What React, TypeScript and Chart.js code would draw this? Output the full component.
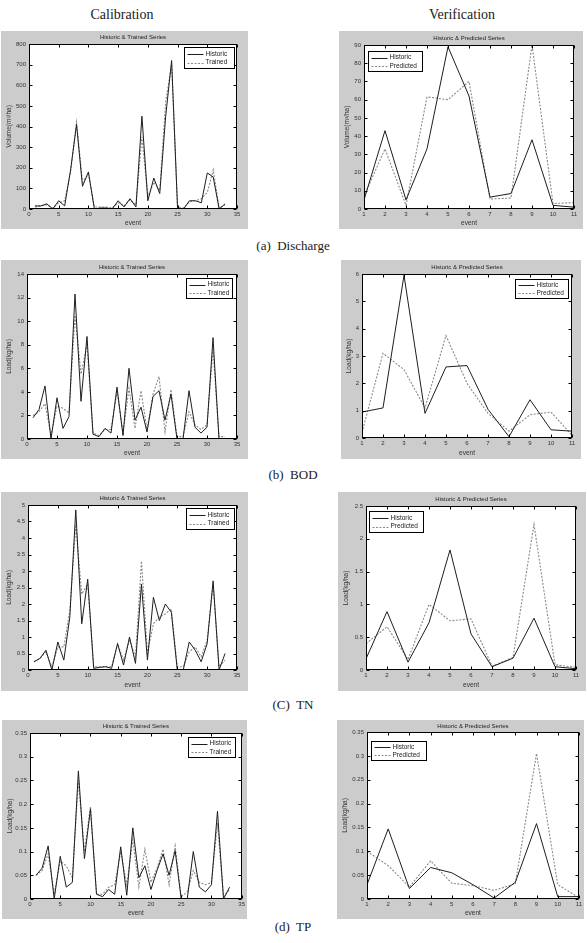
import React, { useEffect, useRef } from "react";
import { Chart, registerables } from "chart.js";

Chart.register(...registerables);

// ---------- data ----------
const calEvents = [1, 2, 3, 4, 5, 6, 7, 8, 9, 10, 11, 12, 13, 14, 15, 16, 17, 18, 19, 20, 21, 22, 23, 24, 25, 26, 27, 28, 29, 30, 31, 32, 33];
const verEvents = [1, 2, 3, 4, 5, 6, 7, 8, 9, 10, 11];

const calXTicks = [0, 5, 10, 15, 20, 25, 30, 35];
const verXTicks = [1, 2, 3, 4, 5, 6, 7, 8, 9, 10, 11];

// Discharge
const dischargeHistCal = [15, 15, 25, 0, 40, 15, 190, 410, 110, 180, 0, 5, 5, 0, 40, 10, 50, 10, 450, 40, 150, 75, 450, 720, 0, 0, 40, 40, 30, 175, 155, 0, 25];
const dischargeTrainedCal = [10, 15, 20, 5, 30, 40, 180, 420, 130, 170, 10, 10, 10, 5, 30, 15, 45, 20, 350, 60, 130, 90, 520, 700, 10, 5, 35, 40, 50, 80, 190, 5, 20];
const dischargeHistVer = [5, 43, 5, 33, 89, 62, 6.5, 8.5, 38, 2, 1];
const dischargePredVer = [7, 33, 2, 61.5, 60, 70, 5.5, 6, 90, 3, 3.5];

// BOD
const bodHistCal = [1.8, 2.5, 4.5, 0, 3.5, 0.9, 1.9, 12.3, 3.2, 8.7, 0.4, 0.2, 0.9, 0.5, 4.4, 0.3, 6.0, 1.6, 2.7, 0.6, 3.6, 4.1, 1.6, 3.8, 0, 0, 4.1, 1.0, 0.5, 1.0, 8.6, 0, 0];
const bodTrainedCal = [2.0, 2.3, 3.0, 0.3, 2.8, 2.6, 2.2, 10.5, 5.5, 8.0, 0.5, 0.3, 0.8, 0.8, 4.0, 0.5, 4.3, 0.9, 4.1, 0.8, 3.8, 5.3, 0.6, 4.2, 0.2, 0.2, 2.3, 1.2, 0.8, 1.2, 7.6, 0.2, 0.2];
const bodHistVer = [0.95, 1.1, 5.95, 0.9, 2.6, 2.65, 1.05, 0.05, 1.4, 0.3, 0.25];
const bodPredVer = [0.2, 3.1, 2.5, 1.1, 3.75, 2.0, 0.9, 0.25, 0.85, 0.95, 0.1];

// TN
const tnHistCal = [0.25, 0.35, 0.6, 0, 0.85, 0.3, 1.6, 4.85, 1.4, 2.75, 0.05, 0.08, 0.1, 0.05, 0.8, 0.15, 1.0, 0.2, 2.6, 0.3, 2.2, 1.5, 2.0, 1.75, 0, 0, 0.85, 0.6, 0.25, 0.8, 2.7, 0, 0.5];
const tnTrainedCal = [0.25, 0.35, 0.55, 0.1, 0.7, 0.7, 1.8, 4.4, 2.3, 2.6, 0.1, 0.1, 0.1, 0.1, 0.8, 0.3, 0.9, 0.4, 3.3, 0.5, 1.4, 1.6, 1.7, 1.85, 0.1, 0.1, 0.55, 0.7, 0.4, 0.9, 2.6, 0.1, 0.3];
const tnHistVer = [0.17, 0.89, 0.12, 0.72, 1.83, 0.55, 0.05, 0.18, 0.79, 0.05, 0.02];
const tnPredVer = [0.4, 0.66, 0.16, 1.0, 0.75, 0.78, 0.06, 0.19, 2.22, 0.08, 0.04];

// TP
const tpHistCal = [0.05, 0.065, 0.112, 0, 0.09, 0.025, 0.035, 0.27, 0.085, 0.19, 0.01, 0.005, 0.02, 0.01, 0.11, 0.008, 0.15, 0.045, 0.07, 0.02, 0.06, 0.095, 0.05, 0.102, 0, 0, 0.1, 0.025, 0.015, 0.03, 0.185, 0, 0.025];
const tpTrainedCal = [0.05, 0.06, 0.095, 0.01, 0.08, 0.07, 0.045, 0.25, 0.1, 0.195, 0.01, 0.01, 0.025, 0.03, 0.1, 0.03, 0.125, 0.025, 0.105, 0.035, 0.065, 0.105, 0.03, 0.112, 0.005, 0.015, 0.06, 0.035, 0.03, 0.035, 0.16, 0.005, 0.02];
const tpHistVer = [0.03, 0.147, 0.022, 0.066, 0.055, 0.03, 0.002, 0.035, 0.158, 0.005, 0.005];
const tpPredVer = [0.1, 0.07, 0.025, 0.08, 0.033, 0.028, 0.018, 0.032, 0.305, 0.03, 0.003];

const dischargeYTicks = [0, 100, 200, 300, 400, 500, 600, 700, 800];
const dischargeVerYTicks = [0, 10, 20, 30, 40, 50, 60, 70, 80, 90];
const bodYTicks = [0, 2, 4, 6, 8, 10, 12, 14];
const bodVerYTicks = [0, 1, 2, 3, 4, 5, 6];
const tnYTicks = [0, 0.5, 1, 1.5, 2, 2.5, 3, 3.5, 4, 4.5, 5];
const tnVerYTicks = [0, 0.5, 1, 1.5, 2, 2.5];
const tpYTicks = [0, 0.05, 0.1, 0.15, 0.2, 0.25, 0.3, 0.35];

const VOL = "Volume(m\u00b3/ha)";
const LOAD = "Load(kg/ha)";
const CAL_TITLE = "Historic & Trained Series";
const VER_TITLE = "Historic & Predicted Series";

// ---------- layout ----------
type Spec = {
  frame: [number, number, number, number];
  pad: [number, number, number, number]; // left, right, top, bottom
  xTicks: number[];
  yTicks: number[];
  yTitle: string;
  title: string;
  events: number[];
  hist: number[];
  model: number[];
  modelLabel: string;
  legend: { side: "left" | "right"; ix: number; iy: number; w: number; h: number };
};

const panels: Spec[] = [
  { frame: [1, 31, 247, 198], pad: [28, 11, 13, 20], xTicks: calXTicks, yTicks: dischargeYTicks, yTitle: VOL, title: CAL_TITLE, events: calEvents, hist: dischargeHistCal, model: dischargeTrainedCal, modelLabel: "Trained", legend: { side: "right", ix: 3, iy: 3, w: 50, h: 21 } },
  { frame: [339, 31, 244, 198], pad: [25, 9, 14, 20], xTicks: verXTicks, yTicks: dischargeVerYTicks, yTitle: VOL, title: VER_TITLE, events: verEvents, hist: dischargeHistVer, model: dischargePredVer, modelLabel: "Predicted", legend: { side: "left", ix: 4, iy: 6, w: 54, h: 20 } },
  { frame: [1, 260, 247, 199], pad: [26, 11, 14, 20], xTicks: calXTicks, yTicks: bodYTicks, yTitle: LOAD, title: CAL_TITLE, events: calEvents, hist: bodHistCal, model: bodTrainedCal, modelLabel: "Trained", legend: { side: "right", ix: 5, iy: 4, w: 46, h: 20 } },
  { frame: [341, 260, 240, 199], pad: [21, 9, 14, 21], xTicks: verXTicks, yTicks: bodVerYTicks, yTitle: LOAD, title: VER_TITLE, events: verEvents, hist: bodHistVer, model: bodPredVer, modelLabel: "Predicted", legend: { side: "right", ix: 4, iy: 5, w: 53, h: 19 } },
  { frame: [1, 492, 247, 199], pad: [27, 11, 13, 21], xTicks: calXTicks, yTicks: tnYTicks, yTitle: LOAD, title: CAL_TITLE, events: calEvents, hist: tnHistCal, model: tnTrainedCal, modelLabel: "Trained", legend: { side: "right", ix: 3, iy: 3, w: 48, h: 21 } },
  { frame: [338, 492, 248, 199], pad: [28, 10, 14, 21], xTicks: verXTicks, yTicks: tnVerYTicks, yTitle: LOAD, title: VER_TITLE, events: verEvents, hist: tnHistVer, model: tnPredVer, modelLabel: "Predicted", legend: { side: "left", ix: 3, iy: 5, w: 54, h: 21 } },
  { frame: [2, 720, 245, 199], pad: [28, 5, 13, 20], xTicks: calXTicks, yTicks: tpYTicks, yTitle: LOAD, title: CAL_TITLE, events: calEvents, hist: tpHistCal, model: tpTrainedCal, modelLabel: "Trained", legend: { side: "right", ix: 7, iy: 4, w: 47, h: 20 } },
  { frame: [337, 720, 247, 199], pad: [30, 4, 12, 20], xTicks: verXTicks, yTicks: tpYTicks, yTitle: LOAD, title: VER_TITLE, events: verEvents, hist: tpHistVer, model: tpPredVer, modelLabel: "Predicted", legend: { side: "left", ix: 4, iy: 9, w: 55, h: 19 } },
];

const SANS = '"Liberation Sans", Arial, sans-serif';
const HIST_COLOR = "#1e1e1e";
const MODEL_COLOR = "#8a8a8a";
const MODEL_DASH = [2, 1.5];

const fmt = (v: any) => String(Number(Number(v).toFixed(6)));

function Panel({ spec }: { spec: Spec }) {
  const ref = useRef<HTMLCanvasElement | null>(null);
  useEffect(() => {
    const canvas = ref.current;
    if (!canvas) return;
    const [pl, pr, pt, pb] = spec.pad;
    const xt = spec.xTicks;
    const yt = spec.yTicks;

    const matlab = {
      id: "matlabFrame",
      beforeDraw(chart: any) {
        const { ctx, chartArea: a } = chart;
        ctx.save();
        ctx.fillStyle = "#ffffff";
        ctx.fillRect(a.left, a.top, a.right - a.left, a.bottom - a.top);
        ctx.restore();
      },
      afterDraw(chart: any) {
        const { ctx, chartArea: a, scales } = chart;
        const x = scales.x;
        const y = scales.y;
        ctx.save();
        ctx.strokeStyle = "#000";
        ctx.lineWidth = 1;
        const L = Math.round(a.left) + 0.5;
        const R = Math.round(a.right) - 0.5;
        const T = Math.round(a.top) + 0.5;
        const B = Math.round(a.bottom) - 0.5;
        ctx.strokeRect(L, T, R - L, B - T);
        ctx.beginPath();
        x.ticks.forEach((t: any) => {
          const px = Math.round(x.getPixelForValue(t.value)) + 0.5;
          ctx.moveTo(px, B);
          ctx.lineTo(px, B - 3);
          ctx.moveTo(px, T);
          ctx.lineTo(px, T + 3);
        });
        y.ticks.forEach((t: any) => {
          const py = Math.round(y.getPixelForValue(t.value)) + 0.5;
          ctx.moveTo(L, py);
          ctx.lineTo(L + 3, py);
          ctx.moveTo(R, py);
          ctx.lineTo(R - 3, py);
        });
        ctx.stroke();

        // panel title
        ctx.fillStyle = "#222";
        ctx.font = `6px ${SANS}`;
        ctx.textAlign = "center";
        ctx.textBaseline = "middle";
        ctx.fillText(spec.title, (a.left + a.right) / 2, a.top / 2);

        // legend
        const lg = spec.legend;
        const bx = lg.side === "right" ? Math.round(a.right - lg.ix - lg.w) + 0.5 : Math.round(a.left + lg.ix) + 0.5;
        const by = Math.round(a.top + lg.iy) + 0.5;
        ctx.fillStyle = "#fff";
        ctx.fillRect(bx, by, lg.w, lg.h);
        ctx.strokeStyle = "#000";
        ctx.strokeRect(bx, by, lg.w, lg.h);
        const rows = [
          { label: "Historic", color: HIST_COLOR, dash: [] as number[] },
          { label: spec.modelLabel, color: MODEL_COLOR, dash: MODEL_DASH },
        ];
        rows.forEach((r, i) => {
          const cy = by + lg.h * (i === 0 ? 0.3 : 0.72);
          ctx.beginPath();
          ctx.setLineDash(r.dash);
          ctx.strokeStyle = r.color;
          ctx.moveTo(bx + 3, Math.round(cy) + 0.5);
          ctx.lineTo(bx + 19, Math.round(cy) + 0.5);
          ctx.stroke();
          ctx.setLineDash([]);
          ctx.fillStyle = "#222";
          ctx.font = `6.5px ${SANS}`;
          ctx.textAlign = "left";
          ctx.textBaseline = "middle";
          ctx.fillText(r.label, bx + 21, cy);
        });
        ctx.restore();
      },
    };

    const chart = new Chart(canvas, {
      type: "line",
      data: {
        datasets: [
          {
            label: "Historic",
            data: spec.events.map((e, i) => ({ x: e, y: spec.hist[i] })),
            borderColor: HIST_COLOR,
            borderWidth: 1,
            pointRadius: 0,
            tension: 0,
          },
          {
            label: spec.modelLabel,
            data: spec.events.map((e, i) => ({ x: e, y: spec.model[i] })),
            borderColor: MODEL_COLOR,
            borderWidth: 1.1,
            borderDash: MODEL_DASH,
            pointRadius: 0,
            tension: 0,
          },
        ],
      },
      options: {
        responsive: false,
        animation: false,
        devicePixelRatio: 1,
        layout: { padding: { left: 0, right: pr, top: pt, bottom: 0 } },
        plugins: {
          legend: { display: false },
          title: { display: false },
          tooltip: { enabled: false },
        },
        scales: {
          x: {
            type: "linear",
            min: xt[0],
            max: xt[xt.length - 1],
            afterBuildTicks: (s: any) => {
              s.ticks = xt.map((v) => ({ value: v }));
            },
            afterFit: (s: any) => {
              s.height = pb;
            },
            grid: { display: false, drawTicks: false },
            border: { display: false },
            ticks: {
              autoSkip: false,
              maxRotation: 0,
              padding: 2,
              color: "#333",
              font: { family: SANS, size: 6 },
              callback: fmt,
            },
            title: {
              display: true,
              text: "event",
              color: "#333",
              font: { family: SANS, size: 6.5 },
              padding: { top: 0, bottom: 2 },
            },
          },
          y: {
            type: "linear",
            min: yt[0],
            max: yt[yt.length - 1],
            afterBuildTicks: (s: any) => {
              s.ticks = yt.map((v) => ({ value: v }));
            },
            afterFit: (s: any) => {
              s.width = pl;
            },
            grid: { display: false, drawTicks: false },
            border: { display: false },
            ticks: {
              autoSkip: false,
              padding: 3,
              color: "#333",
              font: { family: SANS, size: 6 },
              callback: fmt,
            },
            title: {
              display: true,
              text: spec.yTitle,
              color: "#333",
              font: { family: SANS, size: 6.5 },
              padding: { top: 4, bottom: 0 },
            },
          },
        },
      },
      plugins: [matlab],
    } as any);
    return () => chart.destroy();
  }, [spec]);

  const [fx, fy, fw, fh] = spec.frame;
  return (
    <div style={{ position: "absolute", left: fx, top: fy, width: fw, height: fh, background: "#cccccc" }}>
      <canvas ref={ref} width={fw} height={fh} style={{ display: "block", width: fw, height: fh }} />
    </div>
  );
}

const SERIF = '"Liberation Serif", "Times New Roman", serif';

function Label({ text, cx, cy, size }: { text: string; cx: number; cy: number; size: number }) {
  return (
    <div
      style={{
        position: "absolute",
        left: cx - 150,
        top: cy - size * 0.6,
        width: 300,
        height: size * 1.2,
        lineHeight: `${size * 1.2}px`,
        textAlign: "center",
        fontFamily: SERIF,
        fontSize: size,
        color: "#1a1a1a",
        whiteSpace: "pre",
      }}
    >
      {text}
    </div>
  );
}

export default function App() {
  return (
    <div style={{ position: "absolute", left: 0, top: 0, width: 587, height: 943, background: "#fff", overflow: "hidden" }}>
      <Label text="Calibration" cx={122} cy={15} size={14} />
      <Label text="Verification" cx={462} cy={15} size={14} />
      {panels.map((p, i) => (
        <Panel key={i} spec={p} />
      ))}
      <Label text="(a)  Discharge" cx={293} cy={246} size={13} />
      <Label text="(b)  BOD" cx={293} cy={475} size={13} />
      <Label text="(C)  TN" cx={293} cy={705} size={13} />
      <Label text="(d)  TP" cx={293} cy={927} size={13} />
    </div>
  );
}
